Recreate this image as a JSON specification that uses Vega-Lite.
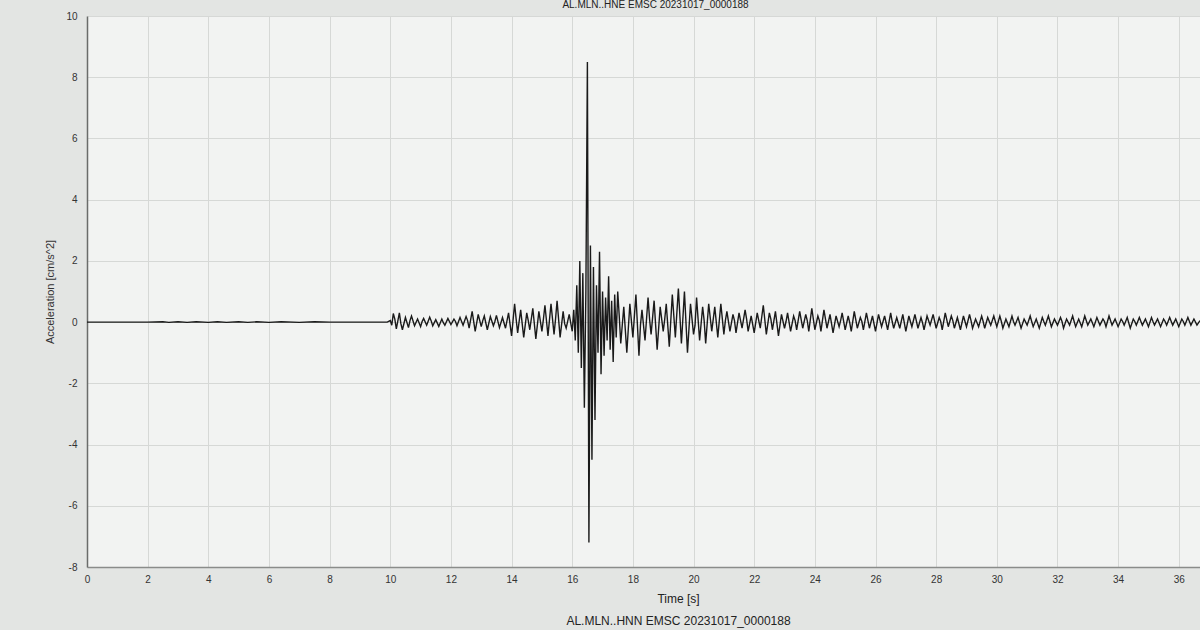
{
  "$schema": "https://vega.github.io/schema/vega-lite/v6.json",
  "autosize": {"type": "none"},
  "padding": {"left": 87, "top": 16, "right": 0, "bottom": 63},
  "width": 1113,
  "height": 551,
  "background": "#e3e5e3",
  "title": {"text": "AL.MLN..HNE EMSC 20231017_0000188", "anchor": "middle", "fontSize": 10, "fontWeight": "normal", "color": "#222222", "offset": 1, "dx": 12, "font": "Liberation Sans"},
  "config": {
    "view": {"fill": "#f2f3f2", "stroke": null},
    "font": "Liberation Sans"
  },
  "data": {"values": [
    {"t":0,"a":0},{"t":2,"a":0},{"t":2.5,"a":0.01},{"t":2.7,"a":-0.01},{"t":3,"a":0.01},{"t":3.3,"a":-0.01},{"t":3.6,"a":0.01},{"t":4,"a":-0.01},{"t":4.3,"a":0.01},{"t":4.6,"a":-0.01},{"t":5,"a":0.01},{"t":5.3,"a":-0.01},{"t":5.6,"a":0.01},{"t":6,"a":-0.01},{"t":6.4,"a":0.01},{"t":7,"a":-0.01},{"t":7.5,"a":0.01},{"t":8,"a":0},{"t":9.9,"a":0},
    {"t":10.0,"a":0.05},{"t":10.05,"a":-0.1},{"t":10.1,"a":0.28},{"t":10.15,"a":0.1},{"t":10.2,"a":-0.22},{"t":10.3,"a":0.3},{"t":10.35,"a":-0.05},{"t":10.4,"a":-0.25},{"t":10.5,"a":0.15},{"t":10.6,"a":-0.18},{"t":10.65,"a":0.05},{"t":10.7,"a":0.2},{"t":10.8,"a":-0.12},{"t":10.9,"a":0.1},
    {"t":11.0,"a":-0.15},{"t":11.05,"a":0.02},{"t":11.1,"a":0.12},{"t":11.2,"a":-0.1},{"t":11.3,"a":0.16},{"t":11.35,"a":0.04},{"t":11.4,"a":-0.12},{"t":11.5,"a":0.08},{"t":11.6,"a":-0.14},{"t":11.7,"a":0.1},{"t":11.75,"a":-0.02},{"t":11.8,"a":-0.1},{"t":11.9,"a":0.12},
    {"t":12.0,"a":-0.08},{"t":12.1,"a":0.1},{"t":12.15,"a":0.02},{"t":12.2,"a":-0.12},{"t":12.3,"a":0.15},{"t":12.4,"a":-0.1},{"t":12.5,"a":0.18},{"t":12.55,"a":0.05},{"t":12.6,"a":-0.2},{"t":12.7,"a":0.35},{"t":12.8,"a":-0.3},{"t":12.9,"a":0.25},
    {"t":13.0,"a":-0.15},{"t":13.05,"a":0.05},{"t":13.1,"a":0.2},{"t":13.2,"a":-0.25},{"t":13.3,"a":0.18},{"t":13.4,"a":-0.12},{"t":13.45,"a":0.02},{"t":13.5,"a":0.22},{"t":13.6,"a":-0.18},{"t":13.7,"a":0.15},{"t":13.8,"a":-0.2},{"t":13.9,"a":0.3},
    {"t":14.0,"a":-0.45},{"t":14.1,"a":0.6},{"t":14.15,"a":0.1},{"t":14.2,"a":-0.35},{"t":14.3,"a":0.4},{"t":14.4,"a":-0.5},{"t":14.5,"a":0.3},{"t":14.55,"a":0.05},{"t":14.6,"a":-0.25},{"t":14.7,"a":0.45},{"t":14.8,"a":-0.55},{"t":14.9,"a":0.35},
    {"t":15.0,"a":-0.3},{"t":15.05,"a":0.1},{"t":15.1,"a":0.55},{"t":15.2,"a":-0.45},{"t":15.3,"a":0.6},{"t":15.4,"a":-0.4},{"t":15.45,"a":0.1},{"t":15.5,"a":0.7},{"t":15.6,"a":-0.5},{"t":15.7,"a":0.35},{"t":15.75,"a":-0.05},{"t":15.8,"a":-0.2},{"t":15.9,"a":0.25},
    {"t":16.0,"a":-0.3},{"t":16.05,"a":0.4},{"t":16.1,"a":-0.6},{"t":16.15,"a":1.2},{"t":16.2,"a":-1.0},{"t":16.25,"a":2.0},{"t":16.3,"a":-1.5},{"t":16.35,"a":1.6},{"t":16.4,"a":-2.8},{"t":16.45,"a":1.0},
    {"t":16.5,"a":8.5},{"t":16.55,"a":-7.2},{"t":16.6,"a":2.5},{"t":16.65,"a":-4.5},{"t":16.7,"a":1.8},{"t":16.75,"a":-3.2},{"t":16.8,"a":1.2},{"t":16.85,"a":-1.0},{"t":16.9,"a":2.3},{"t":16.95,"a":-1.7},
    {"t":17.0,"a":1.0},{"t":17.05,"a":-1.1},{"t":17.1,"a":0.8},{"t":17.15,"a":-0.6},{"t":17.2,"a":1.5},{"t":17.25,"a":-0.9},{"t":17.3,"a":0.7},{"t":17.35,"a":-1.3},{"t":17.4,"a":0.9},{"t":17.45,"a":-0.5},
    {"t":17.5,"a":1.0},{"t":17.55,"a":0.2},{"t":17.6,"a":-0.7},{"t":17.7,"a":0.5},{"t":17.8,"a":-1.0},{"t":17.85,"a":-0.2},{"t":17.9,"a":0.6},
    {"t":18.0,"a":-0.5},{"t":18.1,"a":0.9},{"t":18.2,"a":-1.1},{"t":18.25,"a":-0.1},{"t":18.3,"a":0.4},{"t":18.4,"a":-0.6},{"t":18.5,"a":0.8},{"t":18.55,"a":0.1},{"t":18.6,"a":-0.4},{"t":18.7,"a":0.7},{"t":18.8,"a":-0.9},{"t":18.9,"a":0.5},
    {"t":19.0,"a":-0.3},{"t":19.05,"a":0.1},{"t":19.1,"a":0.6},{"t":19.2,"a":-0.8},{"t":19.3,"a":0.9},{"t":19.4,"a":-0.5},{"t":19.5,"a":1.1},{"t":19.55,"a":0.2},{"t":19.6,"a":-0.7},{"t":19.7,"a":1.0},{"t":19.8,"a":-1.0},{"t":19.9,"a":0.6},
    {"t":20.0,"a":-0.4},{"t":20.05,"a":-0.1},{"t":20.1,"a":0.8},{"t":20.2,"a":-0.6},{"t":20.3,"a":0.5},{"t":20.35,"a":0.05},{"t":20.4,"a":-0.7},{"t":20.5,"a":0.6},{"t":20.6,"a":-0.3},{"t":20.7,"a":0.5},{"t":20.8,"a":-0.5},{"t":20.9,"a":0.6},
    {"t":21.0,"a":-0.4},{"t":21.05,"a":0.05},{"t":21.1,"a":0.35},{"t":21.2,"a":-0.3},{"t":21.3,"a":0.25},{"t":21.35,"a":0.05},{"t":21.4,"a":-0.35},{"t":21.5,"a":0.3},{"t":21.6,"a":-0.2},{"t":21.7,"a":0.4},{"t":21.75,"a":0.1},{"t":21.8,"a":-0.3},{"t":21.9,"a":0.2},
    {"t":22.0,"a":-0.35},{"t":22.1,"a":0.3},{"t":22.15,"a":0.05},{"t":22.2,"a":-0.2},{"t":22.3,"a":0.55},{"t":22.4,"a":-0.4},{"t":22.5,"a":0.3},{"t":22.55,"a":0.1},{"t":22.6,"a":-0.25},{"t":22.7,"a":0.35},{"t":22.8,"a":-0.45},{"t":22.9,"a":0.25},
    {"t":23.0,"a":-0.2},{"t":23.05,"a":0.02},{"t":23.1,"a":0.3},{"t":23.2,"a":-0.3},{"t":23.3,"a":0.2},{"t":23.35,"a":0.05},{"t":23.4,"a":-0.25},{"t":23.5,"a":0.35},{"t":23.6,"a":-0.2},{"t":23.7,"a":0.25},{"t":23.75,"a":0.05},{"t":23.8,"a":-0.3},{"t":23.9,"a":0.45},
    {"t":24.0,"a":-0.25},{"t":24.1,"a":0.2},{"t":24.15,"a":0.05},{"t":24.2,"a":-0.3},{"t":24.3,"a":0.4},{"t":24.4,"a":-0.2},{"t":24.45,"a":0.02},{"t":24.5,"a":0.25},{"t":24.6,"a":-0.35},{"t":24.7,"a":0.2},{"t":24.8,"a":-0.15},{"t":24.85,"a":0.05},{"t":24.9,"a":0.3},
    {"t":25.0,"a":-0.25},{"t":25.1,"a":0.2},{"t":25.15,"a":-0.02},{"t":25.2,"a":-0.3},{"t":25.3,"a":0.35},{"t":25.4,"a":-0.2},{"t":25.5,"a":0.15},{"t":25.55,"a":0.02},{"t":25.6,"a":-0.25},{"t":25.7,"a":0.3},{"t":25.8,"a":-0.2},{"t":25.9,"a":0.2},
    {"t":26.0,"a":-0.3},{"t":26.1,"a":0.25},{"t":26.15,"a":0.05},{"t":26.2,"a":-0.15},{"t":26.3,"a":0.2},{"t":26.4,"a":-0.25},{"t":26.5,"a":0.3},{"t":26.55,"a":0.02},{"t":26.6,"a":-0.2},{"t":26.7,"a":0.15},{"t":26.8,"a":-0.2},{"t":26.9,"a":0.25},
    {"t":27.0,"a":-0.3},{"t":27.1,"a":0.2},{"t":27.15,"a":0.02},{"t":27.2,"a":-0.15},{"t":27.3,"a":0.25},{"t":27.4,"a":-0.2},{"t":27.5,"a":0.15},{"t":27.55,"a":-0.02},{"t":27.6,"a":-0.25},{"t":27.7,"a":0.2},{"t":27.8,"a":-0.1},{"t":27.9,"a":0.25},
    {"t":28.0,"a":-0.2},{"t":28.1,"a":0.15},{"t":28.15,"a":0.02},{"t":28.2,"a":-0.25},{"t":28.3,"a":0.3},{"t":28.4,"a":-0.15},{"t":28.5,"a":0.2},{"t":28.55,"a":0.05},{"t":28.6,"a":-0.2},{"t":28.7,"a":0.15},{"t":28.8,"a":-0.25},{"t":28.9,"a":0.2},
    {"t":29.0,"a":-0.15},{"t":29.1,"a":0.25},{"t":29.15,"a":0.05},{"t":29.2,"a":-0.2},{"t":29.3,"a":0.1},{"t":29.4,"a":-0.15},{"t":29.5,"a":0.2},{"t":29.55,"a":0.02},{"t":29.6,"a":-0.2},{"t":29.7,"a":0.15},{"t":29.8,"a":-0.1},{"t":29.9,"a":0.2},
    {"t":30.0,"a":-0.15},{"t":30.1,"a":0.2},{"t":30.15,"a":0.02},{"t":30.2,"a":-0.2},{"t":30.3,"a":0.1},{"t":30.4,"a":-0.15},{"t":30.5,"a":0.2},{"t":30.55,"a":0.02},{"t":30.6,"a":-0.1},{"t":30.7,"a":0.15},{"t":30.8,"a":-0.2},{"t":30.9,"a":0.1},
    {"t":31.0,"a":-0.1},{"t":31.1,"a":0.2},{"t":31.15,"a":0.02},{"t":31.2,"a":-0.15},{"t":31.3,"a":0.1},{"t":31.4,"a":-0.2},{"t":31.5,"a":0.15},{"t":31.55,"a":0.02},{"t":31.6,"a":-0.1},{"t":31.7,"a":0.2},{"t":31.8,"a":-0.15},{"t":31.9,"a":0.1},
    {"t":32.0,"a":-0.1},{"t":32.1,"a":0.15},{"t":32.15,"a":0.02},{"t":32.2,"a":-0.2},{"t":32.3,"a":0.1},{"t":32.4,"a":-0.1},{"t":32.5,"a":0.2},{"t":32.55,"a":0.02},{"t":32.6,"a":-0.15},{"t":32.7,"a":0.1},{"t":32.8,"a":-0.15},{"t":32.9,"a":0.2},
    {"t":33.0,"a":-0.1},{"t":33.1,"a":0.1},{"t":33.15,"a":-0.02},{"t":33.2,"a":-0.15},{"t":33.3,"a":0.15},{"t":33.4,"a":-0.1},{"t":33.5,"a":0.1},{"t":33.55,"a":0.02},{"t":33.6,"a":-0.15},{"t":33.7,"a":0.2},{"t":33.8,"a":-0.1},{"t":33.9,"a":0.1},
    {"t":34.0,"a":-0.15},{"t":34.1,"a":0.1},{"t":34.15,"a":0.02},{"t":34.2,"a":-0.1},{"t":34.3,"a":0.15},{"t":34.4,"a":-0.2},{"t":34.5,"a":0.1},{"t":34.55,"a":0.02},{"t":34.6,"a":-0.1},{"t":34.7,"a":0.15},{"t":34.8,"a":-0.1},{"t":34.9,"a":0.1},
    {"t":35.0,"a":-0.15},{"t":35.1,"a":0.15},{"t":35.15,"a":0.02},{"t":35.2,"a":-0.1},{"t":35.3,"a":0.1},{"t":35.4,"a":-0.15},{"t":35.5,"a":0.1},{"t":35.55,"a":0.02},{"t":35.6,"a":-0.1},{"t":35.7,"a":0.15},{"t":35.8,"a":-0.1},{"t":35.9,"a":0.1},
    {"t":36.0,"a":-0.15},{"t":36.1,"a":0.1},{"t":36.15,"a":0.02},{"t":36.2,"a":-0.1},{"t":36.3,"a":0.15},{"t":36.4,"a":-0.1},{"t":36.5,"a":0.1},{"t":36.6,"a":-0.1},{"t":36.7,"a":0.05}
  ]},
  "mark": {"type": "line", "color": "#1a1a1a", "strokeWidth": 1.4, "clip": true, "interpolate": "linear"},
  "encoding": {
    "x": {
      "field": "t", "type": "quantitative",
      "scale": {"domain": [0, 36.7], "nice": false, "zero": false},
      "axis": {
        "title": ["Time [s]", "AL.MLN..HNN EMSC 20231017_0000188"],
        "titleFontSize": 12, "titleFontWeight": "normal", "titleColor": "#222222", "titleLineHeight": 22,
        "titlePadding": 9, "titleX": 591,
        "values": [0,2,4,6,8,10,12,14,16,18,20,22,24,26,28,30,32,34,36],
        "labelFontSize": 10, "labelColor": "#333333", "labelPadding": 7, "labelFlush": false,
        "ticks": false, "domainColor": "#8a8c8a", "domainWidth": 1.5,
        "grid": true, "gridColor": "#d6d8d6", "gridWidth": 1
      }
    },
    "y": {
      "field": "a", "type": "quantitative",
      "scale": {"domain": [-8, 10], "nice": false, "zero": false},
      "axis": {
        "title": "Acceleration [cm/s^2]",
        "titleFontSize": 11, "titleFontWeight": "normal", "titleColor": "#333333", "titlePadding": 10,
        "values": [-8,-6,-4,-2,0,2,4,6,8,10],
        "labelExpr": "toString(datum.value)",
        "labelFontSize": 10, "labelColor": "#333333", "labelPadding": 10, "labelFlush": false,
        "ticks": false, "domainColor": "#6a6c6a", "domainWidth": 1.5,
        "grid": true, "gridColor": "#d6d8d6", "gridWidth": 1
      }
    }
  }
}
